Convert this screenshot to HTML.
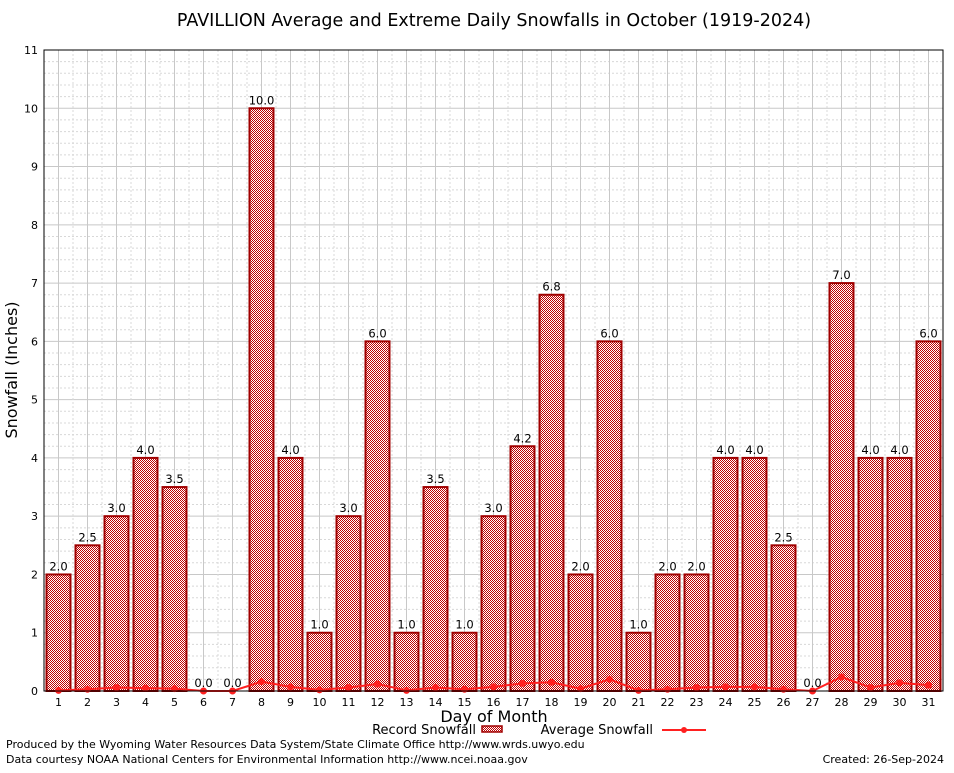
<!DOCTYPE html>
<html><head><meta charset="utf-8"><style>
body{margin:0;background:#fff;}
svg text{font-family:"DejaVu Sans","Liberation Sans",sans-serif;}
</style></head><body>
<svg id="chart" width="954" height="768" xmlns="http://www.w3.org/2000/svg">
<defs>
<pattern id="hatch" width="2" height="2" patternUnits="userSpaceOnUse">
<rect width="2" height="2" fill="#fff"/>
<rect width="1" height="1" fill="#c00000"/>
<rect x="1" y="1" width="1" height="1" fill="#c00000"/>
</pattern>
</defs>
<rect x="0" y="0" width="954" height="768" fill="#fff"/>
<text x="494" y="26" font-size="17.5" text-anchor="middle">PAVILLION Average and Extreme Daily Snowfalls in October (1919-2024)</text>
<g id="grid"></g>
<g id="bars"></g>
<g id="avg"></g>
<g id="axes"></g>
<text transform="translate(17,370) rotate(-90)" font-size="16" text-anchor="middle">Snowfall (Inches)</text>
<text x="494" y="722" font-size="16" text-anchor="middle">Day of Month</text>
<g>
<text x="476" y="734" font-size="13" text-anchor="end">Record Snowfall</text>
<rect x="482" y="726" width="20" height="6" fill="url(#hatch)" stroke="#a00000" stroke-width="1.5"/>
<text x="653" y="734" font-size="13" text-anchor="end">Average Snowfall</text>
<line x1="662" y1="730" x2="706" y2="730" stroke="#ff2020" stroke-width="2"/>
<circle cx="684" cy="730" r="3" fill="#ff2020"/>
</g>
<text x="6" y="748" font-size="11">Produced by the Wyoming Water Resources Data System/State Climate Office http://www.wrds.uwyo.edu</text>
<text x="6" y="763" font-size="11">Data courtesy NOAA National Centers for Environmental Information http://www.ncei.noaa.gov</text>
<text x="944" y="763" font-size="11" text-anchor="end">Created: 26-Sep-2024</text>
</svg>
<script>
const days=[1,2,3,4,5,6,7,8,9,10,11,12,13,14,15,16,17,18,19,20,21,22,23,24,25,26,27,28,29,30,31];
const records=[2.0,2.5,3.0,4.0,3.5,0.0,0.0,10.0,4.0,1.0,3.0,6.0,1.0,3.5,1.0,3.0,4.2,6.8,2.0,6.0,1.0,2.0,2.0,4.0,4.0,2.5,0.0,7.0,4.0,4.0,6.0];
const averages=[0.01,0.03,0.06,0.05,0.04,0,0,0.16,0.07,0.02,0.06,0.12,0.01,0.06,0.03,0.07,0.13,0.15,0.04,0.2,0.01,0.03,0.06,0.07,0.07,0.03,0,0.24,0.06,0.14,0.1];
const yTicks=[0,1,2,3,4,5,6,7,8,9,10,11];
const NS="http://www.w3.org/2000/svg";
const L=44,R=943,T=50,B=691,YMAX=11;
const xs=d=>L+(d-0.5)*(R-L)/31;
const ys=v=>B-v*(B-T)/YMAX;
function mk(tag,at,parent){const e=document.createElementNS(NS,tag);for(const k in at)e.setAttribute(k,at[k]);parent.appendChild(e);return e;}
const grid=document.getElementById('grid'),bars=document.getElementById('bars'),avg=document.getElementById('avg'),axes=document.getElementById('axes');
for(let v=0;v<=YMAX;v+=0.2){const y=ys(v);const major=Math.abs(v-Math.round(v))<0.01;
 const l=mk('line',{x1:L,x2:R,y1:y,y2:y,stroke:major?'#c8c8c8':'#d8d8d8','stroke-width':1,'stroke-dasharray':major?'none':'2,2'},grid);
 }
for(let i=0;i<days.length;i++){const x=xs(days[i]);
 const l=mk('line',{x1:x,x2:x,y1:T,y2:B,stroke:'#c8c8c8','stroke-width':1},grid);
 
 const l2=mk('line',{x1:x+(R-L)/62,x2:x+(R-L)/62,y1:T,y2:B,stroke:'#d8d8d8','stroke-width':1,'stroke-dasharray':'2,2'},grid);
 }
const bw=24;
days.forEach((d,i)=>{const x=xs(d),v=records[i];
 if(v>0){const r=mk('rect',{x:x-bw/2,y:ys(v),width:bw,height:B-ys(v),fill:'url(#hatch)',stroke:'#a00000','stroke-width':2},bars);
 }
 const t=mk('text',{x:x,y:ys(v)-4,'font-size':11.5,'text-anchor':'middle'},bars);t.textContent=v.toFixed(1);
 });
const pts=days.map((d,i)=>xs(d)+','+ys(averages[i])).join(' ');
const pl=mk('polyline',{points:pts,fill:'none',stroke:'#ff2020','stroke-width':2},avg);

days.forEach((d,i)=>{const c=mk('circle',{cx:xs(d),cy:ys(averages[i]),r:3.5,fill:'#ff2020'},avg);
 });
const fr=mk('rect',{x:L,y:T,width:R-L,height:B-T,fill:'none',stroke:'#000','stroke-width':1},axes);

yTicks.forEach(v=>{const t=mk('text',{x:L-6,y:ys(v)+4,'font-size':11,'text-anchor':'end','font-family':'Liberation Serif, serif'},axes);t.textContent=v;
 });
days.forEach(d=>{const t=mk('text',{x:xs(d),y:B+15,'font-size':11,'text-anchor':'middle','font-family':'Liberation Serif, serif'},axes);t.textContent=d;
 });
</script>
</body></html>
